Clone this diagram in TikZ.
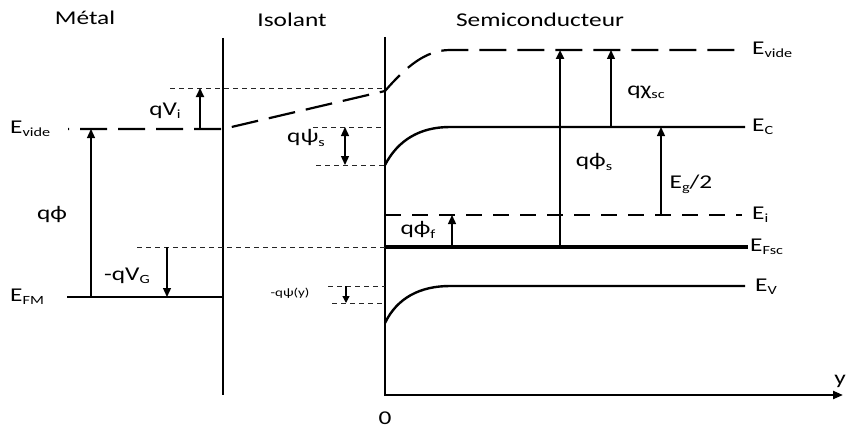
\documentclass[tikz,border=0pt]{standalone}
\usepackage{fontspec}
\setmainfont[FakeStretch=1.3]{Carlito}
\usetikzlibrary{arrows.meta}
\newcommand\lsub[1]{\raisebox{-0.35ex}{\fontsize{12.5}{12.5}\selectfont #1}}
\begin{document}
\begin{tikzpicture}[x=1pt,y=-1pt,
  band/.style={line width=2.4pt},
  vac/.style={line width=2.2pt, dash pattern=on 27pt off 11pt},
  guide/.style={line width=0.8pt, dash pattern=on 5pt off 4pt, black!85},
  arr/.style={line width=1.3pt, -{Triangle[length=9pt,width=8pt]}},
  lbl/.style={inner sep=0pt, font=\fontsize{19.5}{21}\selectfont},
  small/.style={inner sep=0pt, font=\fontsize{11.5}{12}\selectfont}]
\useasboundingbox (0,0) rectangle (846,428);

% key coordinates
\coordinate (mtop) at (223,38);
\coordinate (mbot) at (223,395);
\coordinate (stop) at (385,37);
\coordinate (o) at (385,395);
\coordinate (axend) at (843,395);

% interfaces and axis
\draw[band] (mtop) -- (mbot);
\draw[line width=2.2pt, -{Triangle[length=10pt,width=8pt]}] (stop) -- (o) -- (axend);

% vacuum level
\coordinate (vl) at (68,129);
\coordinate (vm) at (223,129);
\coordinate (vi) at (385,91);
\coordinate (vs) at (450,50);
\coordinate (ve) at (745,50);
\draw[vac, dash phase=26pt] (vl) -- (vm) -- (vi) .. controls (405,68) and (425,50) .. (vs) -- (ve);

% metal
\coordinate (fml) at (67,297);
\coordinate (fmr) at (223,297);
\draw[band] (fml) -- (fmr);
\draw[guide] (170,88) -- (385,88);
\draw[guide] (137,247) -- (385,247);
\draw[arr, line width=1.8pt] (200,129) -- (200,88);
\draw[arr] (91,297) -- (91,129);
\draw[arr] (167,247) -- (167,297);

% semiconductor bands
\draw[band] (385,165) .. controls (398,140) and (420,127) .. (450,127) -- (745,127);
\draw[band] (385,323) .. controls (397,298) and (420,286) .. (450,286) -- (745,286);
\draw[line width=2.2pt, dash pattern=on 16pt off 11pt] (385,215) -- (742,215);
\draw[line width=3.2pt] (385,247) -- (748,247);

\draw[guide] (313,127) -- (385,127);
\draw[guide] (316,165) -- (385,165);
\draw[line width=1.3pt, {Triangle[length=9pt,width=8pt]}-{Triangle[length=9pt,width=8pt]}] (345,127) -- (345,165);
\draw[guide] (328,286) -- (385,286);
\draw[guide] (332,303) -- (385,303);
\draw[line width=1.2pt, -{Triangle[length=7pt,width=7pt]}] (346,286) -- (346,303);

\draw[arr] (452,247) -- (452,215);
\draw[arr, line width=2.4pt] (560,247) -- (560,50);
\draw[arr] (611,127) -- (611,50);
\draw[arr] (661,215) -- (661,127);

% titles
\node[lbl] (tmetal) at (85,18) {Métal};
\node[lbl] (tiso) at (292,20) {Isolant};
\node[lbl] (tsc) at (540,20) {Semiconducteur};

% left labels
\node[lbl, anchor=west] (evl) at (10,129) {E\lsub{vide}};
\node[lbl, anchor=west] (efm) at (10,297) {E\lsub{FM}};
\node[lbl] (qvi) at (165,111) {qV\lsub{i}};
\node[lbl] (qphi) at (52,214) {qϕ};
\node[lbl] (qvg) at (127,276) {-qV\lsub{G}};

% middle labels
\node[lbl] (qpsis) at (306,138) {qψ\lsub{s}};
\node[small] (qpsiy) at (290,293) {-qψ(y)};
\node[lbl] (qphif) at (418,230) {qϕ\lsub{f}};
\node[lbl] (zero) at (385,418) {0};

% right labels
\node[lbl] (qphis) at (594,162) {qϕ\lsub{s}};
\node[lbl] (qchi) at (646,92) {qχ\lsub{sc}};
\node[lbl] (eg) at (691,184) {E\lsub{g}/2};
\node[lbl, anchor=west] (evr) at (752,50) {E\lsub{vide}};
\node[lbl, anchor=west] (ec) at (752,127) {E\lsub{C}};
\node[lbl, anchor=west] (ei) at (752,215) {E\lsub{i}};
\node[lbl, anchor=west] (efsc) at (750,247) {E\lsub{Fsc}};
\node[lbl, anchor=west] (ev) at (755,287) {E\lsub{V}};
\node[lbl, anchor=east] (yax) at (846,381) {y};
\end{tikzpicture}
\end{document}
